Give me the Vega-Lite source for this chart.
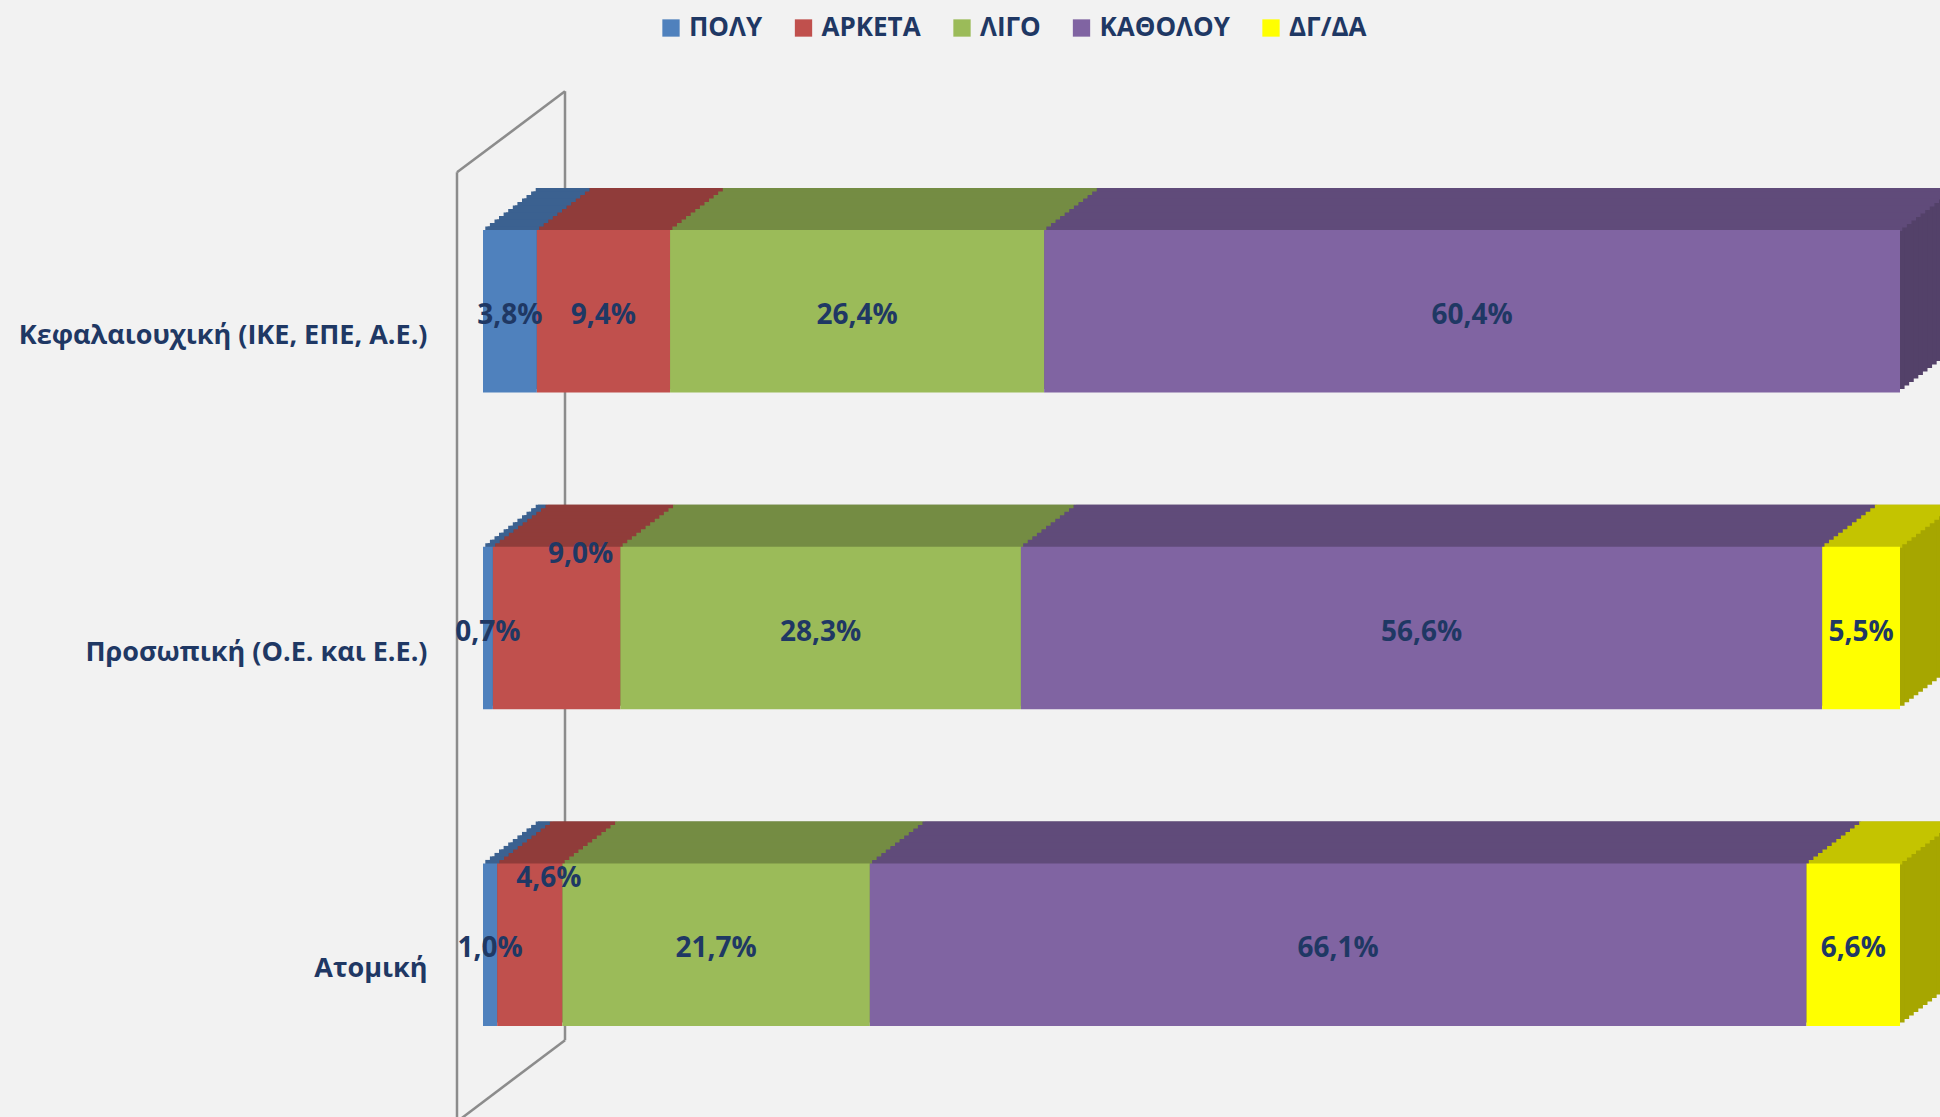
{
  "$schema": "https://vega.github.io/schema/vega-lite/v6.json",
  "autosize": {"type": "none"},
  "padding": {"left": 483, "top": 153, "right": 40, "bottom": 14},
  "width": 1417,
  "height": 950,
  "background": "#F2F2F2",
  "config": {
    "view": {"stroke": null},
    "locale": {"number": {"decimal": ",", "thousands": ".", "grouping": [3], "currency": ["", " €"], "percent": "%"}}
  },
  "layer": [
    {"data": {"values": [{}]}, "mark": {"type": "rule", "color": "#8C8C8C", "strokeWidth": 2.5, "yOffset": -139, "y2Offset": 177},
     "encoding": {"x": {"datum": -0.01835, "type": "quantitative", "scale": {"domain": [0, 1]}, "axis": null}, "y": {"datum": "Κεφαλαιουχική (ΙΚΕ, ΕΠΕ, Α.Ε.)", "type": "nominal", "scale": {"type": "band"}}, "y2": {"datum": "Ατομική"}}},
    {"data": {"values": [{}]}, "mark": {"type": "rule", "color": "#8C8C8C", "strokeWidth": 2.5, "yOffset": -220, "y2Offset": 95.5},
     "encoding": {"x": {"datum": 0.05787, "type": "quantitative", "axis": null}, "y": {"datum": "Κεφαλαιουχική (ΙΚΕ, ΕΠΕ, Α.Ε.)", "type": "nominal"}, "y2": {"datum": "Ατομική"}}},
    {"data": {"values": [{}]}, "mark": {"type": "rule", "color": "#8C8C8C", "strokeWidth": 2.5, "yOffset": -139, "y2Offset": -220},
     "encoding": {"x": {"datum": -0.01835, "type": "quantitative", "axis": null}, "x2": {"datum": 0.05787}, "y": {"datum": "Κεφαλαιουχική (ΙΚΕ, ΕΠΕ, Α.Ε.)", "type": "nominal"}, "y2": {"datum": "Κεφαλαιουχική (ΙΚΕ, ΕΠΕ, Α.Ε.)"}}},
    {"data": {"values": [{}]}, "mark": {"type": "rule", "color": "#8C8C8C", "strokeWidth": 2.5, "yOffset": 95.5, "y2Offset": 177},
     "encoding": {"x": {"datum": 0.05787, "type": "quantitative", "axis": null}, "x2": {"datum": -0.01835}, "y": {"datum": "Ατομική", "type": "nominal"}, "y2": {"datum": "Ατομική"}}},
    {
      "data": {"values": [
        {"c": "Κεφαλαιουχική (ΙΚΕ, ΕΠΕ, Α.Ε.)", "a": "ΠΟΛΥ", "k": 1, "v": 0.038},
        {"c": "Κεφαλαιουχική (ΙΚΕ, ΕΠΕ, Α.Ε.)", "a": "ΑΡΚΕΤΑ", "k": 2, "v": 0.094},
        {"c": "Κεφαλαιουχική (ΙΚΕ, ΕΠΕ, Α.Ε.)", "a": "ΛΙΓΟ", "k": 3, "v": 0.264},
        {"c": "Κεφαλαιουχική (ΙΚΕ, ΕΠΕ, Α.Ε.)", "a": "ΚΑΘΟΛΟΥ", "k": 4, "v": 0.604},
        {"c": "Προσωπική (Ο.Ε. και Ε.Ε.)", "a": "ΠΟΛΥ", "k": 1, "v": 0.007},
        {"c": "Προσωπική (Ο.Ε. και Ε.Ε.)", "a": "ΑΡΚΕΤΑ", "k": 2, "v": 0.090},
        {"c": "Προσωπική (Ο.Ε. και Ε.Ε.)", "a": "ΛΙΓΟ", "k": 3, "v": 0.283},
        {"c": "Προσωπική (Ο.Ε. και Ε.Ε.)", "a": "ΚΑΘΟΛΟΥ", "k": 4, "v": 0.566},
        {"c": "Προσωπική (Ο.Ε. και Ε.Ε.)", "a": "ΔΓ/ΔΑ", "k": 5, "v": 0.055},
        {"c": "Ατομική", "a": "ΠΟΛΥ", "k": 1, "v": 0.010},
        {"c": "Ατομική", "a": "ΑΡΚΕΤΑ", "k": 2, "v": 0.046},
        {"c": "Ατομική", "a": "ΛΙΓΟ", "k": 3, "v": 0.217},
        {"c": "Ατομική", "a": "ΚΑΘΟΛΟΥ", "k": 4, "v": 0.661},
        {"c": "Ατομική", "a": "ΔΓ/ΔΑ", "k": 5, "v": 0.066}
      ]},
      "encoding": {
        "y": {"field": "c", "type": "nominal",
          "scale": {"domain": ["Κεφαλαιουχική (ΙΚΕ, ΕΠΕ, Α.Ε.)", "Προσωπική (Ο.Ε. και Ε.Ε.)", "Ατομική"], "paddingInner": 0.4868, "paddingOuter": 0.2434},
          "axis": {"title": null, "domain": false, "ticks": false, "grid": false, "labelPadding": 56, "labelOffset": 24.5, "labelFont": "Open Sans", "labelFontWeight": "bold", "labelFontSize": 27, "labelColor": "#1F3864", "labelLimit": 0}},
        "x": {"field": "v", "type": "quantitative", "stack": "normalize", "scale": {"domain": [0, 1]}, "axis": null},
        "order": {"field": "k", "type": "quantitative"}
      },
      "resolve": {"scale": {"color": "independent"}},
      "layer": [
        {"mark": {"type": "bar", "xOffset": 55, "x2Offset": 55, "yOffset": -42, "y2Offset": -42}, "encoding": {"color": {"field": "a", "type": "nominal", "scale": {"domain": ["ΠΟΛΥ", "ΑΡΚΕΤΑ", "ΛΙΓΟ", "ΚΑΘΟΛΟΥ", "ΔΓ/ΔΑ"], "range": ["#335478", "#7D3432", "#657A3A", "#534169", "#A6A600"]}, "legend": null}}},
        {"mark": {"type": "bar", "xOffset": 50.42, "x2Offset": 50.42, "yOffset": -38.5, "y2Offset": -38.5}, "encoding": {"color": {"field": "a", "type": "nominal", "scale": {"domain": ["ΠΟΛΥ", "ΑΡΚΕΤΑ", "ΛΙΓΟ", "ΚΑΘΟΛΟΥ", "ΔΓ/ΔΑ"], "range": ["#335478", "#7D3432", "#657A3A", "#534169", "#A6A600"]}, "legend": null}}},
        {"mark": {"type": "bar", "xOffset": 45.83, "x2Offset": 45.83, "yOffset": -35, "y2Offset": -35}, "encoding": {"color": {"field": "a", "type": "nominal", "scale": {"domain": ["ΠΟΛΥ", "ΑΡΚΕΤΑ", "ΛΙΓΟ", "ΚΑΘΟΛΟΥ", "ΔΓ/ΔΑ"], "range": ["#335478", "#7D3432", "#657A3A", "#534169", "#A6A600"]}, "legend": null}}},
        {"mark": {"type": "bar", "xOffset": 41.25, "x2Offset": 41.25, "yOffset": -31.5, "y2Offset": -31.5}, "encoding": {"color": {"field": "a", "type": "nominal", "scale": {"domain": ["ΠΟΛΥ", "ΑΡΚΕΤΑ", "ΛΙΓΟ", "ΚΑΘΟΛΟΥ", "ΔΓ/ΔΑ"], "range": ["#335478", "#7D3432", "#657A3A", "#534169", "#A6A600"]}, "legend": null}}},
        {"mark": {"type": "bar", "xOffset": 36.67, "x2Offset": 36.67, "yOffset": -28, "y2Offset": -28}, "encoding": {"color": {"field": "a", "type": "nominal", "scale": {"domain": ["ΠΟΛΥ", "ΑΡΚΕΤΑ", "ΛΙΓΟ", "ΚΑΘΟΛΟΥ", "ΔΓ/ΔΑ"], "range": ["#335478", "#7D3432", "#657A3A", "#534169", "#A6A600"]}, "legend": null}}},
        {"mark": {"type": "bar", "xOffset": 32.08, "x2Offset": 32.08, "yOffset": -24.5, "y2Offset": -24.5}, "encoding": {"color": {"field": "a", "type": "nominal", "scale": {"domain": ["ΠΟΛΥ", "ΑΡΚΕΤΑ", "ΛΙΓΟ", "ΚΑΘΟΛΟΥ", "ΔΓ/ΔΑ"], "range": ["#335478", "#7D3432", "#657A3A", "#534169", "#A6A600"]}, "legend": null}}},
        {"mark": {"type": "bar", "xOffset": 27.5, "x2Offset": 27.5, "yOffset": -21, "y2Offset": -21}, "encoding": {"color": {"field": "a", "type": "nominal", "scale": {"domain": ["ΠΟΛΥ", "ΑΡΚΕΤΑ", "ΛΙΓΟ", "ΚΑΘΟΛΟΥ", "ΔΓ/ΔΑ"], "range": ["#335478", "#7D3432", "#657A3A", "#534169", "#A6A600"]}, "legend": null}}},
        {"mark": {"type": "bar", "xOffset": 22.92, "x2Offset": 22.92, "yOffset": -17.5, "y2Offset": -17.5}, "encoding": {"color": {"field": "a", "type": "nominal", "scale": {"domain": ["ΠΟΛΥ", "ΑΡΚΕΤΑ", "ΛΙΓΟ", "ΚΑΘΟΛΟΥ", "ΔΓ/ΔΑ"], "range": ["#335478", "#7D3432", "#657A3A", "#534169", "#A6A600"]}, "legend": null}}},
        {"mark": {"type": "bar", "xOffset": 18.33, "x2Offset": 18.33, "yOffset": -14, "y2Offset": -14}, "encoding": {"color": {"field": "a", "type": "nominal", "scale": {"domain": ["ΠΟΛΥ", "ΑΡΚΕΤΑ", "ΛΙΓΟ", "ΚΑΘΟΛΟΥ", "ΔΓ/ΔΑ"], "range": ["#335478", "#7D3432", "#657A3A", "#534169", "#A6A600"]}, "legend": null}}},
        {"mark": {"type": "bar", "xOffset": 13.75, "x2Offset": 13.75, "yOffset": -10.5, "y2Offset": -10.5}, "encoding": {"color": {"field": "a", "type": "nominal", "scale": {"domain": ["ΠΟΛΥ", "ΑΡΚΕΤΑ", "ΛΙΓΟ", "ΚΑΘΟΛΟΥ", "ΔΓ/ΔΑ"], "range": ["#335478", "#7D3432", "#657A3A", "#534169", "#A6A600"]}, "legend": null}}},
        {"mark": {"type": "bar", "xOffset": 9.17, "x2Offset": 9.17, "yOffset": -7, "y2Offset": -7}, "encoding": {"color": {"field": "a", "type": "nominal", "scale": {"domain": ["ΠΟΛΥ", "ΑΡΚΕΤΑ", "ΛΙΓΟ", "ΚΑΘΟΛΟΥ", "ΔΓ/ΔΑ"], "range": ["#335478", "#7D3432", "#657A3A", "#534169", "#A6A600"]}, "legend": null}}},
        {"mark": {"type": "bar", "xOffset": 4.58, "x2Offset": 4.58, "yOffset": -3.5, "y2Offset": -3.5}, "encoding": {"color": {"field": "a", "type": "nominal", "scale": {"domain": ["ΠΟΛΥ", "ΑΡΚΕΤΑ", "ΛΙΓΟ", "ΚΑΘΟΛΟΥ", "ΔΓ/ΔΑ"], "range": ["#335478", "#7D3432", "#657A3A", "#534169", "#A6A600"]}, "legend": null}}},

        {"mark": {"type": "bar", "height": 4.5, "xOffset": 52.7, "x2Offset": 52.7, "yOffset": -121}, "encoding": {"color": {"field": "a", "type": "nominal", "scale": {"domain": ["ΠΟΛΥ", "ΑΡΚΕΤΑ", "ΛΙΓΟ", "ΚΑΘΟΛΟΥ", "ΔΓ/ΔΑ"], "range": ["#3B6190", "#903C3A", "#748C43", "#604B7A", "#C4C400"]}, "legend": null}}},
        {"mark": {"type": "bar", "height": 4.5, "xOffset": 48.1, "x2Offset": 48.1, "yOffset": -117.5}, "encoding": {"color": {"field": "a", "type": "nominal", "scale": {"domain": ["ΠΟΛΥ", "ΑΡΚΕΤΑ", "ΛΙΓΟ", "ΚΑΘΟΛΟΥ", "ΔΓ/ΔΑ"], "range": ["#3B6190", "#903C3A", "#748C43", "#604B7A", "#C4C400"]}, "legend": null}}},
        {"mark": {"type": "bar", "height": 4.5, "xOffset": 43.5, "x2Offset": 43.5, "yOffset": -114}, "encoding": {"color": {"field": "a", "type": "nominal", "scale": {"domain": ["ΠΟΛΥ", "ΑΡΚΕΤΑ", "ΛΙΓΟ", "ΚΑΘΟΛΟΥ", "ΔΓ/ΔΑ"], "range": ["#3B6190", "#903C3A", "#748C43", "#604B7A", "#C4C400"]}, "legend": null}}},
        {"mark": {"type": "bar", "height": 4.5, "xOffset": 39.0, "x2Offset": 39.0, "yOffset": -110.5}, "encoding": {"color": {"field": "a", "type": "nominal", "scale": {"domain": ["ΠΟΛΥ", "ΑΡΚΕΤΑ", "ΛΙΓΟ", "ΚΑΘΟΛΟΥ", "ΔΓ/ΔΑ"], "range": ["#3B6190", "#903C3A", "#748C43", "#604B7A", "#C4C400"]}, "legend": null}}},
        {"mark": {"type": "bar", "height": 4.5, "xOffset": 34.4, "x2Offset": 34.4, "yOffset": -107}, "encoding": {"color": {"field": "a", "type": "nominal", "scale": {"domain": ["ΠΟΛΥ", "ΑΡΚΕΤΑ", "ΛΙΓΟ", "ΚΑΘΟΛΟΥ", "ΔΓ/ΔΑ"], "range": ["#3B6190", "#903C3A", "#748C43", "#604B7A", "#C4C400"]}, "legend": null}}},
        {"mark": {"type": "bar", "height": 4.5, "xOffset": 29.8, "x2Offset": 29.8, "yOffset": -103.5}, "encoding": {"color": {"field": "a", "type": "nominal", "scale": {"domain": ["ΠΟΛΥ", "ΑΡΚΕΤΑ", "ΛΙΓΟ", "ΚΑΘΟΛΟΥ", "ΔΓ/ΔΑ"], "range": ["#3B6190", "#903C3A", "#748C43", "#604B7A", "#C4C400"]}, "legend": null}}},
        {"mark": {"type": "bar", "height": 4.5, "xOffset": 25.2, "x2Offset": 25.2, "yOffset": -100}, "encoding": {"color": {"field": "a", "type": "nominal", "scale": {"domain": ["ΠΟΛΥ", "ΑΡΚΕΤΑ", "ΛΙΓΟ", "ΚΑΘΟΛΟΥ", "ΔΓ/ΔΑ"], "range": ["#3B6190", "#903C3A", "#748C43", "#604B7A", "#C4C400"]}, "legend": null}}},
        {"mark": {"type": "bar", "height": 4.5, "xOffset": 20.6, "x2Offset": 20.6, "yOffset": -96.5}, "encoding": {"color": {"field": "a", "type": "nominal", "scale": {"domain": ["ΠΟΛΥ", "ΑΡΚΕΤΑ", "ΛΙΓΟ", "ΚΑΘΟΛΟΥ", "ΔΓ/ΔΑ"], "range": ["#3B6190", "#903C3A", "#748C43", "#604B7A", "#C4C400"]}, "legend": null}}},
        {"mark": {"type": "bar", "height": 4.5, "xOffset": 16.0, "x2Offset": 16.0, "yOffset": -93}, "encoding": {"color": {"field": "a", "type": "nominal", "scale": {"domain": ["ΠΟΛΥ", "ΑΡΚΕΤΑ", "ΛΙΓΟ", "ΚΑΘΟΛΟΥ", "ΔΓ/ΔΑ"], "range": ["#3B6190", "#903C3A", "#748C43", "#604B7A", "#C4C400"]}, "legend": null}}},
        {"mark": {"type": "bar", "height": 4.5, "xOffset": 11.5, "x2Offset": 11.5, "yOffset": -89.5}, "encoding": {"color": {"field": "a", "type": "nominal", "scale": {"domain": ["ΠΟΛΥ", "ΑΡΚΕΤΑ", "ΛΙΓΟ", "ΚΑΘΟΛΟΥ", "ΔΓ/ΔΑ"], "range": ["#3B6190", "#903C3A", "#748C43", "#604B7A", "#C4C400"]}, "legend": null}}},
        {"mark": {"type": "bar", "height": 4.5, "xOffset": 6.9, "x2Offset": 6.9, "yOffset": -86}, "encoding": {"color": {"field": "a", "type": "nominal", "scale": {"domain": ["ΠΟΛΥ", "ΑΡΚΕΤΑ", "ΛΙΓΟ", "ΚΑΘΟΛΟΥ", "ΔΓ/ΔΑ"], "range": ["#3B6190", "#903C3A", "#748C43", "#604B7A", "#C4C400"]}, "legend": null}}},
        {"mark": {"type": "bar", "height": 4.5, "xOffset": 2.3, "x2Offset": 2.3, "yOffset": -82.5}, "encoding": {"color": {"field": "a", "type": "nominal", "scale": {"domain": ["ΠΟΛΥ", "ΑΡΚΕΤΑ", "ΛΙΓΟ", "ΚΑΘΟΛΟΥ", "ΔΓ/ΔΑ"], "range": ["#3B6190", "#903C3A", "#748C43", "#604B7A", "#C4C400"]}, "legend": null}}},

        {"mark": {"type": "bar"}, "encoding": {"color": {"field": "a", "type": "nominal",
          "scale": {"domain": ["ΠΟΛΥ", "ΑΡΚΕΤΑ", "ΛΙΓΟ", "ΚΑΘΟΛΟΥ", "ΔΓ/ΔΑ"], "range": ["#4F81BD", "#C0504D", "#9BBB59", "#8064A2", "#FFFF00"]},
          "legend": {"orient": "none", "legendX": 175, "legendY": -138, "direction": "horizontal", "title": null, "symbolType": "square", "symbolSize": 300, "symbolStrokeWidth": 0, "labelFont": "Open Sans", "labelFontWeight": "bold", "labelFontSize": 26, "labelColor": "#1F3864", "columnPadding": 27.5, "labelOffset": 5}}}},

        {"mark": {"type": "text", "font": "Open Sans", "fontWeight": "bold", "fontSize": 28, "fill": "#1F3864", "baseline": "middle", "align": "center", "dy": 4.5},
         "encoding": {"x": {"field": "v", "type": "quantitative", "stack": "normalize", "bandPosition": 0.5},
           "text": {"condition": {"test": "datum.a === 'ΑΡΚΕΤΑ' && datum.c !== 'Κεφαλαιουχική (ΙΚΕ, ΕΠΕ, Α.Ε.)'", "value": ""}, "field": "v", "type": "quantitative", "format": ".1%"}}},
        {"mark": {"type": "text", "font": "Open Sans", "fontWeight": "bold", "fontSize": 28, "fill": "#1F3864", "baseline": "middle", "align": "center", "dx": 24, "dy": -73},
         "encoding": {"x": {"field": "v", "type": "quantitative", "stack": "normalize", "bandPosition": 0.5},
           "text": {"condition": {"test": "datum.a === 'ΑΡΚΕΤΑ' && datum.c === 'Προσωπική (Ο.Ε. και Ε.Ε.)'", "field": "v", "type": "quantitative", "format": ".1%"}, "value": ""}}},
        {"mark": {"type": "text", "font": "Open Sans", "fontWeight": "bold", "fontSize": 28, "fill": "#1F3864", "baseline": "middle", "align": "center", "dx": 19, "dy": -66},
         "encoding": {"x": {"field": "v", "type": "quantitative", "stack": "normalize", "bandPosition": 0.5},
           "text": {"condition": {"test": "datum.a === 'ΑΡΚΕΤΑ' && datum.c === 'Ατομική'", "field": "v", "type": "quantitative", "format": ".1%"}, "value": ""}}}
      ]
    }
  ]
}
